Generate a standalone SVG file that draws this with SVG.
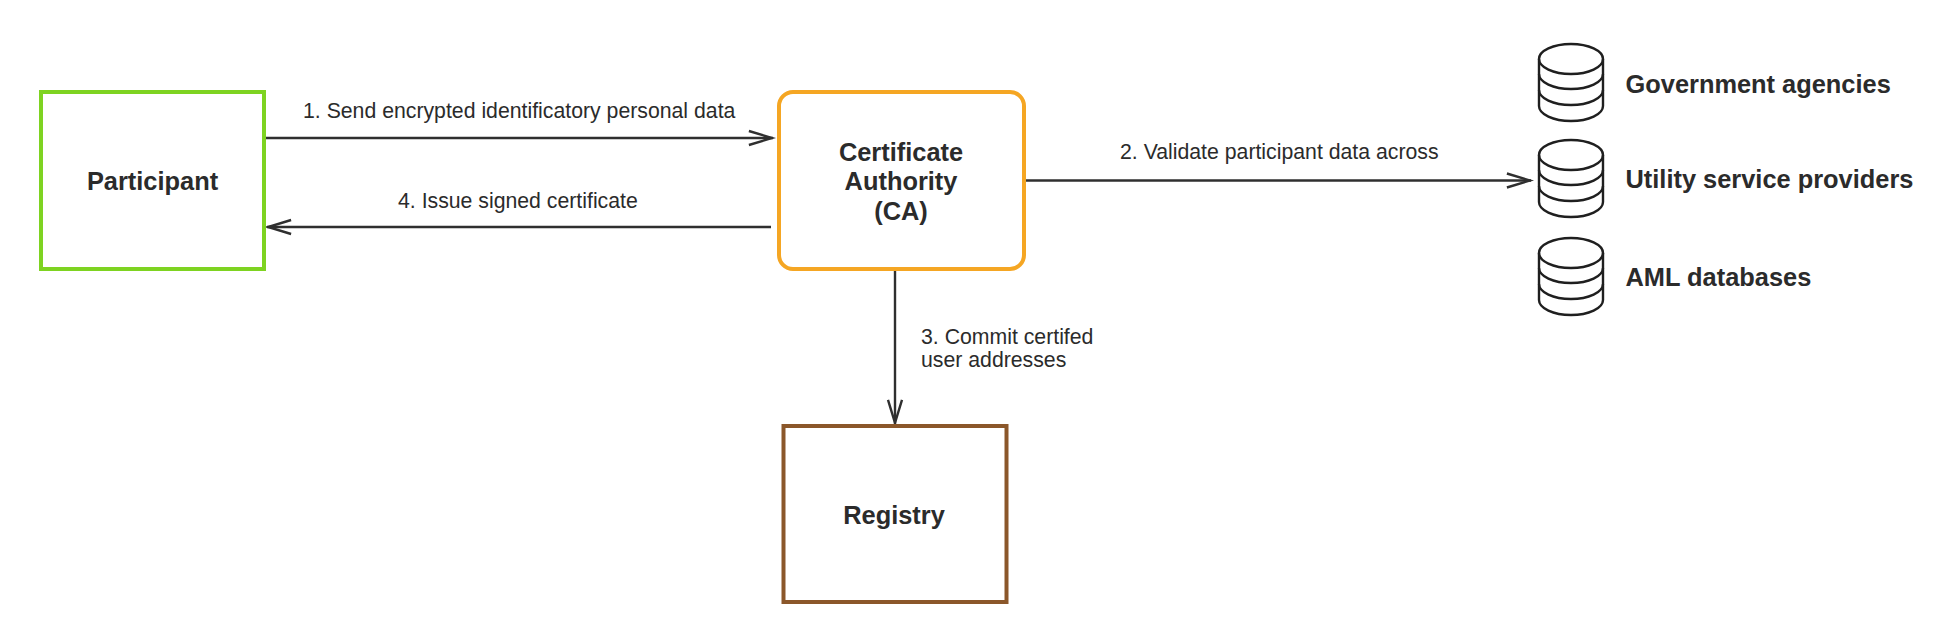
<svg xmlns="http://www.w3.org/2000/svg" width="1940" height="626" viewBox="0 0 1940 626">
<style>
text{font-family:"Liberation Sans",Arial,sans-serif;fill:#2b2b2b}
.n{font-size:25.4px;font-weight:bold;text-anchor:middle}
.d{font-size:25.4px;font-weight:bold}
.l{font-size:21.25px}
.c{fill:none;stroke:#2f2f2f;stroke-width:2.4}
.cy{fill:#fff;stroke:#1f1f1f;stroke-width:2.4}
</style>
<defs>
<marker id="a" markerUnits="userSpaceOnUse" markerWidth="30" markerHeight="20" refX="25.1" refY="10" orient="auto"><path d="M1 3 L24 10 L1 17" fill="none" stroke="#2f2f2f" stroke-width="2.4"/></marker>
<g id="db"><path class="cy" d="M1539 59a32 15 0 0 1 64 0v47a32 15 0 0 1 -64 0z"/><path class="cy" style="fill:none" d="M1539 59a32 15 0 0 0 64 0M1539 74a32 15 0 0 0 64 0M1539 90a32 15 0 0 0 64 0"/></g>
</defs>
<rect width="1940" height="626" fill="#fff"/>
<g id="connectors">
<path class="c" d="M266 138H773" marker-end="url(#a)"/>
<path class="c" d="M771 227H267" marker-end="url(#a)"/>
<path class="c" d="M1026 180.500H1531" marker-end="url(#a)"/>
<path class="c" d="M895 269V424" marker-end="url(#a)"/>
<text class="l" x="303" y="118">1. Send encrypted identificatory personal data</text>
<text class="l" x="398" y="208">4. Issue signed certificate</text>
<text class="l" x="1120" y="159">2. Validate participant data across</text>
<text class="l" x="921" y="344">3. Commit certifed</text>
<text class="l" x="921" y="367">user addresses</text>
</g>
<g id="participant"><rect x="41" y="92" width="223" height="177" fill="#fff" stroke="#7ed321" stroke-width="4"/><text class="n" x="152.500" y="190">Participant</text></g>
<g id="ca"><rect x="779" y="92" width="245" height="177" rx="14" fill="#fff" stroke="#f5a623" stroke-width="4"/><text class="n" x="901" y="161">Certificate</text><text class="n" x="901" y="190">Authority</text><text class="n" x="901" y="220">(CA)</text></g>
<g id="registry"><rect x="783.500" y="426" width="223" height="176" fill="#fff" stroke="#8b572a" stroke-width="4"/><text class="n" x="894" y="524">Registry</text></g>
<g id="government"><use href="#db"/><text class="d" x="1625.500" y="93">Government agencies</text></g>
<g id="utility"><use href="#db" y="96"/><text class="d" x="1625.500" y="188">Utility service providers</text></g>
<g id="aml"><use href="#db" y="194"/><text class="d" x="1625.500" y="286">AML databases</text></g>
</svg>
